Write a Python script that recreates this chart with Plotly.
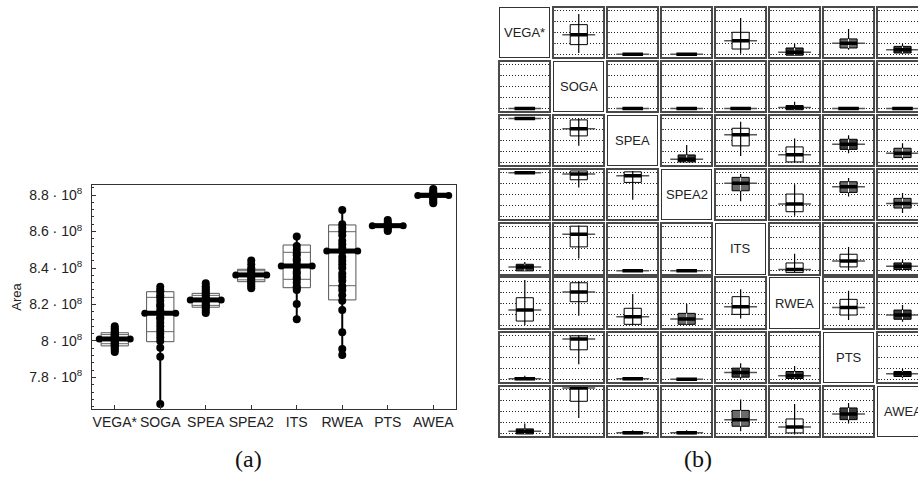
import plotly.graph_objects as go

# ---------------- data ----------------
CATEGORIES = ["VEGA*", "SOGA", "SPEA", "SPEA2", "ITS", "RWEA", "PTS", "AWEA"]

# Panel (a): Area values in units of 10^8
PTS_VEGA = [7.94, 7.95, 7.96, 7.97, 7.975, 7.98, 7.985, 7.99, 7.995, 8.0, 8.005, 8.01,
            8.015, 8.02, 8.025, 8.03, 8.035, 8.04, 8.045, 8.05, 8.06, 8.07, 8.08]
PTS_SOGA = [7.655, 7.914, 7.963, 8.0, 8.02, 8.04, 8.06, 8.08, 8.1, 8.12, 8.13, 8.15,
            8.17, 8.19, 8.2, 8.22, 8.24, 8.25, 8.27, 8.28, 8.297]
PTS_SPEA = [8.153, 8.165, 8.18, 8.19, 8.2, 8.21, 8.22, 8.23, 8.24, 8.25, 8.26, 8.27,
            8.28, 8.29, 8.3, 8.316]
PTS_SPEA2 = [8.289, 8.3, 8.31, 8.32, 8.33, 8.34, 8.35, 8.36, 8.37, 8.38, 8.39, 8.4,
             8.42, 8.441]
PTS_ITS = [8.119, 8.203, 8.28, 8.29, 8.3, 8.32, 8.34, 8.35, 8.37, 8.38, 8.4, 8.41,
           8.42, 8.44, 8.45, 8.47, 8.48, 8.5, 8.52, 8.572]
PTS_RWEA = [7.923, 7.956, 8.048, 8.17, 8.22, 8.25, 8.28, 8.3, 8.33, 8.35, 8.37, 8.4,
            8.42, 8.44, 8.46, 8.49, 8.51, 8.53, 8.55, 8.58, 8.6, 8.62, 8.64, 8.718]
PTS_PTS = [8.603, 8.61, 8.62, 8.625, 8.63, 8.635, 8.64, 8.65, 8.663]
PTS_AWEA = [8.755, 8.765, 8.775, 8.785, 8.79, 8.795, 8.8, 8.805, 8.81, 8.82, 8.833]
POINTS = [PTS_VEGA, PTS_SOGA, PTS_SPEA, PTS_SPEA2, PTS_ITS, PTS_RWEA, PTS_PTS, PTS_AWEA]

MEDIAN = [8.011, 8.152, 8.225, 8.362, 8.411, 8.493, 8.632, 8.798]
Q1 = [7.973, 7.996, 8.185, 8.325, 8.292, 8.225, 8.625, 8.79]
Q3 = [8.045, 8.27, 8.261, 8.393, 8.526, 8.636, 8.64, 8.81]
INNER_LO = [7.985, 8.051, 8.195, 8.335, 8.338, 8.303, 8.628, 8.793]
INNER_HI = [8.035, 8.239, 8.25, 8.385, 8.486, 8.599, 8.635, 8.805]

Y_TICKS = [7.8, 8.0, 8.2, 8.4, 8.6, 8.8]
Y_TICK_TEXT = ["7.8 · 10<sup>8</sup>", "8 · 10<sup>8</sup>", "8.2 · 10<sup>8</sup>",
               "8.4 · 10<sup>8</sup>", "8.6 · 10<sup>8</sup>", "8.8 · 10<sup>8</sup>"]

# Panel (b): pairwise comparison boxes (normalised 0..1), row x column, None on diagonal
F0 = (0.0, -0.01, 0.0, 0.015, 0.01)
CELL_STATS = [
    [None, (0.03, 0.22, 0.447, 0.674, 0.917), F0, F0,
     (0.015, 0.12, 0.31, 0.5, 0.826), (-0.02, -0.02, 0.045, 0.144, 0.24),
     (0.106, 0.144, 0.25, 0.35, 0.576), (0.015, 0.03, 0.106, 0.18, 0.24)],
    [F0, None, F0, F0, F0, (0.0, -0.03, 0.02, 0.065, 0.15), F0, F0],
    [(1.0, 0.99, 1.0, 1.015, 1.02), (0.38, 0.606, 0.77, 0.97, 1.0), None,
     (0.0, 0.015, 0.076, 0.174, 0.4), (0.15, 0.38, 0.63, 0.78, 0.93),
     (0.0, 0.015, 0.18, 0.356, 0.545), (0.21, 0.3, 0.417, 0.53, 0.62),
     (0.06, 0.114, 0.212, 0.326, 0.44)],
    [(1.0, 0.99, 1.0, 1.015, 1.02), (0.667, 0.84, 0.97, 1.04, 1.04),
     (0.386, 0.78, 0.93, 1.02, 1.04), None, (0.35, 0.59, 0.758, 0.894, 0.97),
     (0.02, 0.114, 0.288, 0.515, 0.74), (0.46, 0.553, 0.682, 0.795, 0.88),
     (0.083, 0.197, 0.303, 0.417, 0.538)],
    [(0.0, 0.0, 0.09, 0.15, 0.2), (0.28, 0.545, 0.833, 1.015, 1.03), F0, F0, None,
     (-0.03, -0.04, 0.03, 0.18, 0.39), (0.015, 0.09, 0.227, 0.378, 0.545),
     (0.015, 0.03, 0.106, 0.18, 0.26)],
    [(0.0, 0.09, 0.34, 0.62, 1.02), (0.21, 0.53, 0.75, 0.96, 1.0),
     (0.0, 0.015, 0.19, 0.38, 0.705), (0.0, 0.015, 0.136, 0.265, 0.477),
     (0.15, 0.242, 0.417, 0.644, 0.81), None, (0.114, 0.227, 0.4, 0.583, 0.78),
     (0.076, 0.13, 0.227, 0.34, 0.455)],
    [(0.0, -0.01, 0.01, 0.03, 0.076), (0.34, 0.667, 0.91, 0.985, 1.0),
     (0.0, -0.01, 0.01, 0.03, 0.04), F0, (0.0, 0.045, 0.15, 0.25, 0.36),
     (0.0, 0.015, 0.076, 0.174, 0.3), None, (0.023, 0.06, 0.12, 0.174, 0.235)],
    [(-0.015, -0.015, 0.045, 0.1, 0.22), (0.35, 0.727, 1.03, 1.05, 1.05),
     (0.0, -0.01, 0.01, 0.03, 0.07), (0.0, -0.01, 0.01, 0.03, 0.07),
     (0.045, 0.16, 0.31, 0.52, 0.765), (-0.03, 0.008, 0.144, 0.326, 0.667),
     (0.22, 0.31, 0.44, 0.576, 0.69), None],
]
# shading of each box (d = dense/dark, g = grey, w = white)
CELL_SHADE = [
    "-wddwdgd",
    "d-dddddd",
    "dw-dwwdg",
    "dww-gwgg",
    "dwdd-wwd",
    "wwwgw-wd",
    "dwdddd-d",
    "dwddgwd-",
]

# ---------------- layout helpers ----------------
W, H = 918, 491
FONT = "Liberation Sans, Arial, sans-serif"
SHADE_COLOR = {"d": "#3a3a3a", "g": "#6a6a6a", "w": "white"}

fig = go.Figure()

# ---------------- panel (a) ----------------
BW = 0.3
bx, by = [], []
for i in range(len(CATEGORIES)):
    bx += [i - BW, i + BW, i + BW, i - BW, i - BW, None]
    by += [Q1[i], Q1[i], Q3[i], Q3[i], Q1[i], None]
fig.add_trace(go.Scatter(x=bx, y=by, mode="lines", line=dict(color="#555", width=1),
                         hoverinfo="skip", showlegend=False))
ix, iy = [], []
for i in range(len(CATEGORIES)):
    for v in (INNER_LO[i], INNER_HI[i]):
        ix += [i - BW, i + BW, None]
        iy += [v, v, None]
fig.add_trace(go.Scatter(x=ix, y=iy, mode="lines", line=dict(color="#666", width=1),
                         hoverinfo="skip", showlegend=False))
wx, wy = [], []
for i, pts in enumerate(POINTS):
    wx += [i, i, None]
    wy += [min(pts), max(pts), None]
fig.add_trace(go.Scatter(x=wx, y=wy, mode="lines", line=dict(color="black", width=2),
                         hoverinfo="skip", showlegend=False))
px_, py_ = [], []
for i, pts in enumerate(POINTS):
    px_ += [i] * len(pts)
    py_ += pts
fig.add_trace(go.Scatter(x=px_, y=py_, mode="markers",
                         marker=dict(color="black", size=8),
                         showlegend=False))
MW = 0.34
mx, my = [], []
for i in range(len(CATEGORIES)):
    mx += [i - MW, i + MW, None]
    my += [MEDIAN[i], MEDIAN[i], None]
fig.add_trace(go.Scatter(x=mx, y=my, mode="lines+markers",
                         line=dict(color="black", width=5),
                         marker=dict(color="black", size=7),
                         hoverinfo="skip", showlegend=False))

fig.update_layout(
    xaxis=dict(domain=[92 / W, 456 / W], range=[-0.5, 7.5],
               tickvals=list(range(len(CATEGORIES))), ticktext=CATEGORIES,
               ticks="inside", ticklen=4, tickcolor="#333",
               showgrid=False, zeroline=False, showline=True, mirror=True,
               linecolor="#333", linewidth=1,
               tickfont=dict(family=FONT, size=14, color="#222"), anchor="y"),
    yaxis=dict(domain=[1 - 409 / H, 1 - 185 / H], range=[7.627, 8.855],
               tickvals=Y_TICKS, ticktext=Y_TICK_TEXT,
               ticks="inside", ticklen=4, tickcolor="#333",
               minor=dict(ticks="inside", ticklen=2, tick0=7.8, dtick=0.04, tickcolor="#333"),
               showgrid=False, zeroline=False, showline=True, mirror=True,
               linecolor="#333", linewidth=1, ticklabelstandoff=6,
               tickfont=dict(family=FONT, size=14, color="#222"), anchor="x",
               title=dict(text="Area", font=dict(family=FONT, size=13, color="#222"),
                          standoff=4)),
)

# ---------------- panel (b) ----------------
COL0, CPITCH, CW = 500.3, 53.96, 49.0
ROW0, RPITCH, RH = 7.7, 54.14, 49.3
YR = [-0.061, 1.059]

annotations = []
k = 2
for r in range(8):
    for c in range(8):
        x0 = COL0 + c * CPITCH
        x1 = x0 + CW
        xc = x0 + CW / 2
        xr = [-1.0, 1.0]
        clipped = x1 > W
        if clipped:
            xr = [-1.0, -1.0 + 2.0 * (W - x0) / CW]
            x1 = W
        y0 = ROW0 + r * RPITCH
        y1 = y0 + RH
        diag = CELL_STATS[r][c] is None
        xn, yn = f"x{k}", f"y{k}"
        lc = "#333" if diag else "#4a4a4a"
        lw = 1.2 if diag else 1.6
        xa = dict(domain=[x0 / W, x1 / W], range=xr, showgrid=False, zeroline=False,
                  showticklabels=False, ticks="", showline=True, mirror=True,
                  linecolor=lc, linewidth=lw, anchor=f"y{k}", fixedrange=True)
        ya = dict(domain=[1 - y1 / H, 1 - y0 / H], range=YR, zeroline=False,
                  showticklabels=False, showline=True, mirror=not clipped,
                  linecolor=lc, linewidth=lw, anchor=f"x{k}", fixedrange=True)
        if diag:
            ya.update(showgrid=False, ticks="")
            fig.add_trace(go.Scatter(x=[0], y=[0.5], mode="markers",
                                     marker=dict(opacity=0, size=1),
                                     xaxis=xn, yaxis=yn, hoverinfo="skip",
                                     showlegend=False))
            annotations.append(dict(text=CATEGORIES[r], xref="paper",
                                    yref=f"y{k} domain", x=xc / W, y=0.5, showarrow=False,
                                    xanchor="center",
                                    font=dict(family=FONT, size=13, color="#222")))
        else:
            ya.update(showgrid=True, tickvals=[0, 0.25, 0.5, 0.75, 1.0],
                      griddash="1px,2px", gridcolor="#222", gridwidth=1,
                      ticks="inside", ticklen=2, tickcolor="#555")
            lo, q1, med, q3, hi = CELL_STATS[r][c]
            shade = CELL_SHADE[r][c]
            fig.add_trace(go.Scatter(x=[-0.67, 0.67], y=[med, med], mode="lines",
                                     line=dict(color="#555", width=1.5),
                                     xaxis=xn, yaxis=yn, hoverinfo="skip",
                                     showlegend=False))
            fig.add_trace(go.Scatter(x=[-0.35, 0.35, 0.35, -0.35, -0.35],
                                     y=[q1, q1, q3, q3, q1], mode="lines", fill="toself",
                                     fillcolor=SHADE_COLOR[shade],
                                     line=dict(color="black", width=1),
                                     xaxis=xn, yaxis=yn, hoverinfo="skip",
                                     showlegend=False))
            fig.add_trace(go.Scatter(x=[0, 0], y=[lo, hi], mode="lines",
                                     line=dict(color="black", width=1.2),
                                     xaxis=xn, yaxis=yn, hoverinfo="skip",
                                     showlegend=False))
            if shade != "w":
                fig.add_trace(go.Scatter(x=[0, 0], y=[q1, q3], mode="lines",
                                         line=dict(color="white", width=1),
                                         xaxis=xn, yaxis=yn, hoverinfo="skip",
                                         showlegend=False))
            hw = 0.42 if (q3 - q1) < 0.06 else 0.35
            fig.add_trace(go.Scatter(x=[-hw, hw], y=[med, med], mode="lines",
                                     line=dict(color="black", width=3.5),
                                     xaxis=xn, yaxis=yn, hoverinfo="skip",
                                     showlegend=False))
        fig.layout[f"xaxis{k}"] = xa
        fig.layout[f"yaxis{k}"] = ya
        k += 1

annotations.append(dict(text="(a)", xref="paper", yref="paper", x=233 / W, y=1 - 474 / H,
                        showarrow=False,
                        font=dict(family="Liberation Serif, Times New Roman, serif",
                                  size=24, color="#111")))
annotations.append(dict(text="(b)", xref="paper", yref="paper", x=714 / W, y=1 - 474 / H,
                        showarrow=False,
                        font=dict(family="Liberation Serif, Times New Roman, serif",
                                  size=24, color="#111")))

fig.update_layout(width=W, height=H, margin=dict(l=0, r=0, t=0, b=0),
                  paper_bgcolor="white", plot_bgcolor="white",
                  showlegend=False, annotations=annotations)

fig.write_html("out.html", config={"displayModeBar": False},
               post_script="document.body.style.margin='0';document.body.style.overflow='hidden';")
